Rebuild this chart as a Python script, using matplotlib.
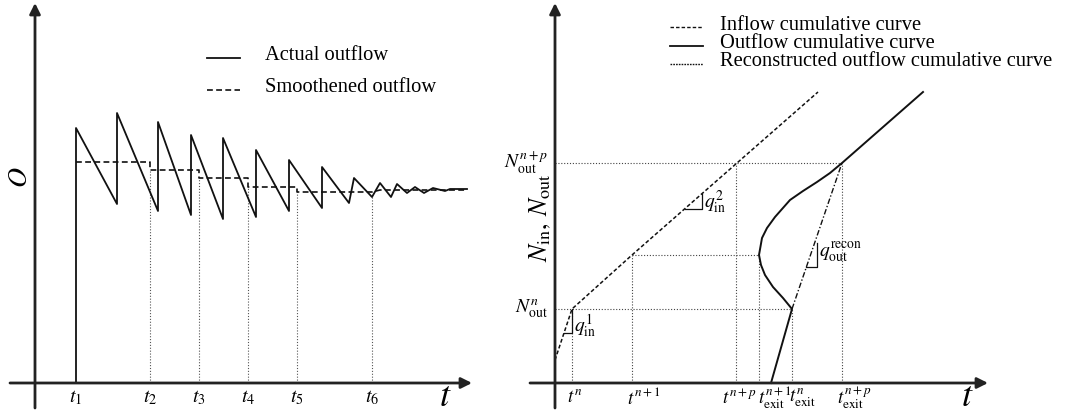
import numpy as np
import matplotlib.pyplot as plt

plt.rcParams['font.family'] = ['Liberation Serif', 'DejaVu Serif']
plt.rcParams['mathtext.fontset'] = 'stix'

# ---- left panel: actual vs smoothened outflow (schematic units) ----
t_marks = [41, 115, 164, 213, 262, 337]
t_labels = ['$t_1$', '$t_2$', '$t_3$', '$t_4$', '$t_5$', '$t_6$']
guide_tops = [213, 205, 196, 191, 186]   # dotted drop lines for t2..t6

actual_t = [41, 41, 82, 82, 123, 123, 156, 156, 188, 188, 221, 221, 254, 254,
            287, 287, 314, 319, 337, 345, 356, 362, 372, 380, 389, 398, 410, 415, 432]
actual_o = [0, 255, 179, 270, 172, 261, 168, 248, 164, 245, 166, 233, 172, 223,
            175, 216, 180, 205, 186, 200, 186, 199, 190, 196, 190, 195, 192, 194, 194]

smooth_t = [41, 115, 115, 164, 164, 213, 213, 262, 262, 337, 345, 432]
smooth_o = [221, 221, 213, 213, 205, 205, 196, 196, 191, 191, 193, 193]

# ---- right panel: cumulative curves ----
inflow_t = [0, 17, 77, 263]
inflow_n = [23, 74, 128, 291]

outflow_t = [216, 237, 228, 218, 210, 206, 204, 207, 212, 220, 235, 248, 262, 275, 287, 368]
outflow_n = [0, 74, 85, 96, 108, 118, 128, 145, 155, 166, 183, 192, 201, 210, 220, 291]

recon_t = [237, 287]
recon_n = [74, 220]

n_levels = {'n': 74, 'n1': 128, 'np': 220}
t_ticks = [17, 77, 181, 204, 237, 287]
t_tick_labels = ['$t^{n}$', '$t^{n+1}$', '$t^{n+p}$',
                 r'$t^{n+1}_{\mathrm{exit}}$', r'$t^{n}_{\mathrm{exit}}$',
                 r'$t^{n+p}_{\mathrm{exit}}$']
tick_nudge = [-5, -5, -14, -1, -3, -5]
tick_tops = [74, 128, 220, 128, 74, 220]

fig = plt.figure(figsize=(10.68, 4.13), dpi=100)
axL = fig.add_axes([0, 0, 520 / 1068, 1])
axR = fig.add_axes([520 / 1068, 0, 548 / 1068, 1])
axL.set_xlim(-35, 485)
axR.set_xlim(-35, 513)
for ax in (axL, axR):
    ax.set_ylim(-30, 383)
    ax.axis('off')

arrow = dict(arrowstyle='-|>', lw=2.0, color='#222222', mutation_scale=16,
             shrinkA=0, shrinkB=0)
fine_dots = (0, (1, 1.6))
ink = '#111111'

# left panel
axL.annotate('', xy=(437, 0), xytext=(-25, 0), arrowprops=arrow)
axL.annotate('', xy=(0, 380), xytext=(0, -25), arrowprops=arrow)
for t, top in zip(t_marks[1:], guide_tops):
    axL.plot([t, t], [0, top], color='#555555', lw=0.8, linestyle=fine_dots)
axL.plot(actual_t, actual_o, color=ink, lw=1.3)
axL.plot(smooth_t, smooth_o, color=ink, lw=1.2, dashes=(3.5, 2))
for t, lab in zip(t_marks, t_labels):
    axL.text(t, -15, lab, ha='center', va='center', fontsize=14.5)
axL.text(410, -15, '$t$', ha='center', va='center', fontsize=26)
axL.text(-15, 206, '$O$', ha='center', va='center', fontsize=20, rotation=90)

axL.plot([172, 205], [325, 325], color=ink, lw=1.3)
axL.plot([172, 205], [293, 293], color=ink, lw=1.2, dashes=(3.5, 2))
axL.text(230, 328, 'Actual outflow', fontsize=14.8, va='center')
axL.text(230, 296, 'Smoothened outflow', fontsize=14.8, va='center')

# right panel
axR.annotate('', xy=(433, 0), xytext=(-25, 0), arrowprops=arrow)
axR.annotate('', xy=(0, 380), xytext=(0, -25), arrowprops=arrow)

guide = dict(color='#444444', lw=0.8, linestyle=fine_dots)
axR.plot([0, recon_t[0]], [n_levels['n']] * 2, **guide)
axR.plot([0, recon_t[1]], [n_levels['np']] * 2, **guide)
axR.plot([inflow_t[2], min(outflow_t[1:-1])], [n_levels['n1']] * 2, **guide)
for t, top in zip(t_ticks, tick_tops):
    axR.plot([t, t], [0, top], **guide)

axR.plot(inflow_t, inflow_n, color=ink, lw=1.1, dashes=(2.5, 1.5))
axR.plot(outflow_t, outflow_n, color=ink, lw=1.4)
axR.plot(recon_t, recon_n, color=ink, lw=1.0, dashes=(4, 1.5, 1, 1.5))

# slope triangles
axR.plot([9, 17, 17], [50, 50, 74], color=ink, lw=0.9)
axR.plot([130, 147, 147], [174, 174, 189], color=ink, lw=0.9)
axR.plot([251, 262, 262], [116, 116, 140], color=ink, lw=0.9)
axR.text(19, 57, r'$q^{1}_{\mathrm{in}}$', fontsize=14, va='center')
axR.text(149, 181, r'$q^{2}_{\mathrm{in}}$', fontsize=14, va='center')
axR.text(264, 130, r'$q^{\mathrm{recon}}_{\mathrm{out}}$', fontsize=14, va='center')

for t, lab, dx in zip(t_ticks, t_tick_labels, tick_nudge):
    axR.text(t + dx, -15, lab, ha='left', va='center', fontsize=13.5)
axR.text(412, -15, '$t$', ha='center', va='center', fontsize=26)
axR.text(-7, n_levels['np'], r'$N^{n+p}_{\mathrm{out}}$', ha='right', va='center', fontsize=14)
axR.text(-7, n_levels['n'], r'$N^{n}_{\mathrm{out}}$', ha='right', va='center', fontsize=14)
axR.text(-15, 165, r'$N_{\mathrm{in}},\, N_{\mathrm{out}}$', ha='center', va='center',
         fontsize=18.5, rotation=90)

legend_labels = ['Inflow cumulative curve', 'Outflow cumulative curve',
                 'Reconstructed outflow cumulative curve']
legend_dashes = [(2.5, 1.5), (None, None), (1.2, 0.8)]
for i, (lab, ds) in enumerate(zip(legend_labels, legend_dashes)):
    y = 358 - 18.5 * i
    if ds[0] is None:
        axR.plot([115, 148], [y - 2, y - 2], color=ink, lw=1.3)
    else:
        axR.plot([115, 148], [y - 2, y - 2], color=ink, lw=1.0, dashes=ds)
    axR.text(165, y, lab, fontsize=14.8, va='center')

fig.savefig('out.png', dpi=100)
